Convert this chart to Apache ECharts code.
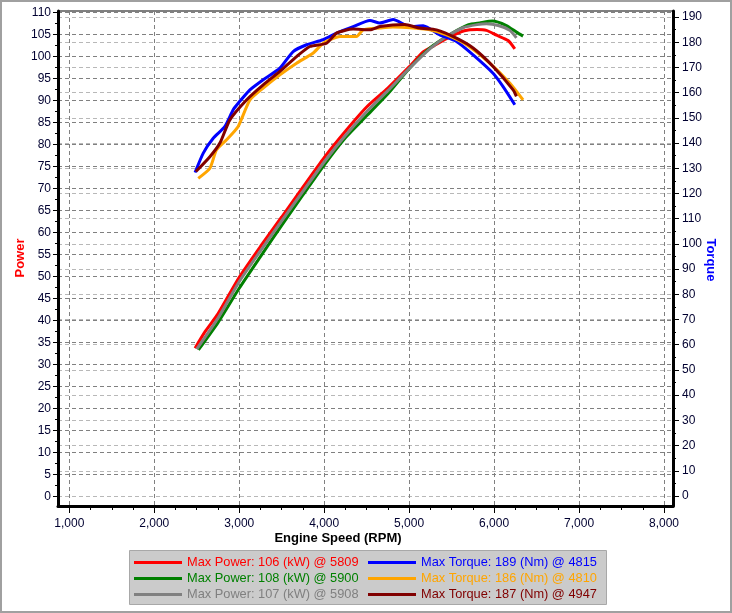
<!DOCTYPE html>
<html><head><meta charset="utf-8">
<script src="https://cdn.jsdelivr.net/npm/echarts@6/dist/echarts.min.js"></script>
<style>html,body{margin:0;padding:0;background:#fff}#c{width:732px;height:613px}</style>
</head><body><div id="c"></div>
<script>
// ---- tick labels ----
const xTicks = [1000, 2000, 3000, 4000, 5000, 6000, 7000, 8000];
const powerTicks = [0,5,10,15,20,25,30,35,40,45,50,55,60,65,70,75,80,85,90,95,100,105,110];
const torqueTicks = [0,10,20,30,40,50,60,70,80,90,100,110,120,130,140,150,160,170,180,190];

// ---- series (rpm, value) ----
const redRpm   = [2480,2600,2750,3000,3250,3500,3750,4000,4250,4500,4750,5000,5165,5300,5480,5650,5800,5910,6030,6165,6244];
const redPower = [33.7,37.5,41.5,49.8,56.8,63.5,70.3,77.0,83.0,88.5,92.8,97.6,101.0,102.5,104.4,105.8,106.1,105.9,104.8,103.6,101.7];

const greenRpm   = [2520,2750,3000,3250,3500,3750,4000,4250,4500,4750,5000,5250,5500,5700,5830,5980,6145,6263,6341];
const greenPower = [33.3,39.5,47.3,54.5,61.6,68.5,75.3,81.5,86.5,91.5,97.2,102.0,105.2,107.2,107.6,108.0,107.0,105.5,104.6];

const grayRpm   = [2500,2750,3000,3250,3500,3750,4000,4250,4500,4750,5000,5250,5450,5635,5800,5910,6050,6185,6263];
const grayPower = [33.5,40.5,48.8,55.8,62.6,69.3,76.0,82.0,87.4,92.2,97.2,101.8,104.6,106.5,107.2,107.4,107.0,105.9,104.2];

const blueRpm    = [2480,2577,2694,2832,2929,2988,3126,3282,3479,3635,3793,3988,4146,4341,4538,4655,4812,5008,5165,5361,5557,5753,5988,6106,6244];
const blueTorque = [128.3,136.0,141.9,146.6,153.2,155.8,161.1,165.1,169.7,176.3,179.0,181.0,183.6,186.2,188.6,187.6,189.0,186.2,186.5,182.9,180.3,175.0,167.7,162.4,155.2];

const orangeRpm    = [2518,2655,2733,2851,2988,3126,3282,3479,3675,3871,3988,4185,4380,4459,4655,4810,5047,5243,5439,5675,5949,6184,6341];
const orangeTorque = [126.0,130.0,137.3,141.3,146.6,157.1,161.8,167.1,171.7,175.7,179.6,182.3,182.3,184.9,185.6,186.0,185.6,184.9,182.9,179.0,171.7,163.8,157.1];

const maroonRpm    = [2490,2655,2773,2890,3086,3282,3479,3675,3832,4028,4146,4341,4538,4655,4947,5126,5322,5557,5753,5988,6224,6263];
const maroonTorque = [128.7,134.6,140.0,149.2,157.1,163.1,168.4,174.3,178.3,179.6,183.6,185.2,184.9,186.2,187.0,185.6,184.9,181.6,177.7,170.4,161.1,158.5];

const legendNames = [
  'Max Power: 106 (kW) @ 5809', 'Max Power: 108 (kW) @ 5900', 'Max Power: 107 (kW) @ 5908',
  'Max Torque: 189 (Nm) @ 4815', 'Max Torque: 186 (Nm) @ 4810', 'Max Torque: 187 (Nm) @ 4947'
];
const colors = ['#ff0000', '#008000', '#808080', '#0000ff', '#ffa500', '#800000'];

function pairs(xs, ys) { return xs.map((x, i) => [x, ys[i]]); }
function halves(t) { const r = []; for (let i = 0; i < t.length - 1; i++) r.push((t[i] + t[i+1]) / 2); return r; }
function quarters(t) { const r = []; for (let i = 0; i < t.length - 1; i++) { const s = (t[i+1]-t[i])/4; r.push(t[i]+s, t[i]+2*s, t[i]+3*s); } return r; }

const FONT = 'Liberation Sans, Arial, sans-serif';
const labelColor = '#000030';

const chart = echarts.init(document.getElementById('c'), null, {renderer: 'canvas'});

const seriesData = [
  pairs(redRpm, redPower), pairs(greenRpm, greenPower), pairs(grayRpm, grayPower),
  pairs(blueRpm, blueTorque), pairs(orangeRpm, orangeTorque), pairs(maroonRpm, maroonTorque)
];

const X_MIN = 867, X_MAX = 8106;
const P_MIN = -2.16, P_MAX = 110.3;
const T_MIN = -3.97, T_MAX = 192.38;

const option = {
  animation: false,
  backgroundColor: '#ffffff',
  grid: [{left: 58, top: 11, width: 615, height: 495, show: true, borderColor: '#000', borderWidth: 1, backgroundColor: 'transparent', containLabel: false, outerBoundsMode: 'none'}],
  xAxis: [
    {type: 'value', gridIndex: 0, position: 'bottom', min: X_MIN, max: X_MAX,
     axisLine: {show: true, onZero: false, lineStyle: {color: '#000', width: 3}},
     axisTick: {show: true, customValues: xTicks, length: 7, lineStyle: {color: '#000', width: 1}},
     axisLabel: {show: true, customValues: xTicks, margin: 12, color: labelColor, fontSize: 12, fontFamily: FONT,
                 formatter: v => Number(v).toLocaleString('en-US')},
     splitLine: {show: true, lineStyle: {color: '#808080', type: [4, 3], width: 1}}},
    {type: 'value', gridIndex: 0, position: 'bottom', min: X_MIN, max: X_MAX,
     axisLine: {show: false, onZero: false},
     axisTick: {show: true, customValues: quarters(xTicks), length: 4, lineStyle: {color: '#000', width: 1}},
     axisLabel: {show: false}, splitLine: {show: false}}
  ],
  yAxis: [
    {type: 'value', gridIndex: 0, position: 'left', min: P_MIN, max: P_MAX,
     axisLine: {show: true, onZero: false, lineStyle: {color: '#000', width: 3}},
     axisTick: {show: true, customValues: powerTicks, length: 5, lineStyle: {color: '#000'}},
     axisLabel: {show: true, customValues: powerTicks, margin: 7, color: labelColor, fontSize: 12, fontFamily: FONT},
     splitLine: {show: true, lineStyle: {color: '#808080', type: [4, 3], width: 1}}},
    {type: 'value', gridIndex: 0, position: 'right', min: T_MIN, max: T_MAX,
     axisLine: {show: true, onZero: false, lineStyle: {color: '#000', width: 3}},
     axisTick: {show: true, customValues: torqueTicks, length: 6, lineStyle: {color: '#000'}},
     axisLabel: {show: true, customValues: torqueTicks, margin: 9, color: labelColor, fontSize: 12, fontFamily: FONT},
     splitLine: {show: true, lineStyle: {color: '#b8b8b8', type: [4, 3], width: 1}}},
    {type: 'value', gridIndex: 0, position: 'left', min: P_MIN, max: P_MAX,
     axisLine: {show: false, onZero: false},
     axisTick: {show: true, customValues: halves(powerTicks), length: 3, lineStyle: {color: '#000'}},
     axisLabel: {show: false}, splitLine: {show: false}},
    {type: 'value', gridIndex: 0, position: 'right', min: T_MIN, max: T_MAX,
     axisLine: {show: false, onZero: false},
     axisTick: {show: true, customValues: halves(torqueTicks), length: 3, lineStyle: {color: '#000'}},
     axisLabel: {show: false}, splitLine: {show: false}}
  ],
  legend: [
    {left: 129, top: 551, orient: 'vertical', itemWidth: 48, itemHeight: 3, itemGap: 3, icon: 'rect',
     selectedMode: false, textStyle: {fontSize: 12.8, fontFamily: FONT},
     data: [0,1,2].map(i => ({name: legendNames[i], textStyle: {color: colors[i]}}))},
    {left: 363, top: 551, orient: 'vertical', itemWidth: 48, itemHeight: 3, itemGap: 3, icon: 'rect',
     selectedMode: false, textStyle: {fontSize: 12.8, fontFamily: FONT},
     data: [3,4,5].map(i => ({name: legendNames[i], textStyle: {color: colors[i]}}))}
  ],
  graphic: [
    {type: 'rect', z: 0, shape: {x: 1, y: 1, width: 730, height: 611}, style: {fill: 'none', stroke: '#a0a0a0', lineWidth: 2}},
    {type: 'rect', z: 0, shape: {x: 129.5, y: 550.5, width: 477, height: 54}, style: {fill: '#cbcbcb', stroke: '#a8a8a8', lineWidth: 1}},
    {type: 'text', z: 5, x: 338, y: 538, style: {text: 'Engine Speed (RPM)', fill: '#000', font: 'bold 13px ' + FONT, textAlign: 'center', textVerticalAlign: 'middle'}},
    {type: 'text', z: 5, x: 20, y: 258, rotation: Math.PI / 2, style: {text: 'Power', fill: '#ff0000', font: 'bold 13px ' + FONT, textAlign: 'center', textVerticalAlign: 'middle'}},
    {type: 'text', z: 5, x: 711, y: 260, rotation: -Math.PI / 2, style: {text: 'Torque', fill: '#0000ff', font: 'bold 13px ' + FONT, textAlign: 'center', textVerticalAlign: 'middle'}}
  ],
  series: seriesData.map((d, i) => ({
    name: legendNames[i], type: 'line', xAxisIndex: 0, yAxisIndex: i < 3 ? 0 : 1,
    data: d, showSymbol: false, symbol: 'none', smooth: 0.2,
    lineStyle: {color: colors[i], width: 3}, itemStyle: {color: colors[i]},
    emphasis: {disabled: true}, clip: true, z: 3 + i
  }))
};
chart.setOption(option);
</script></body></html>
